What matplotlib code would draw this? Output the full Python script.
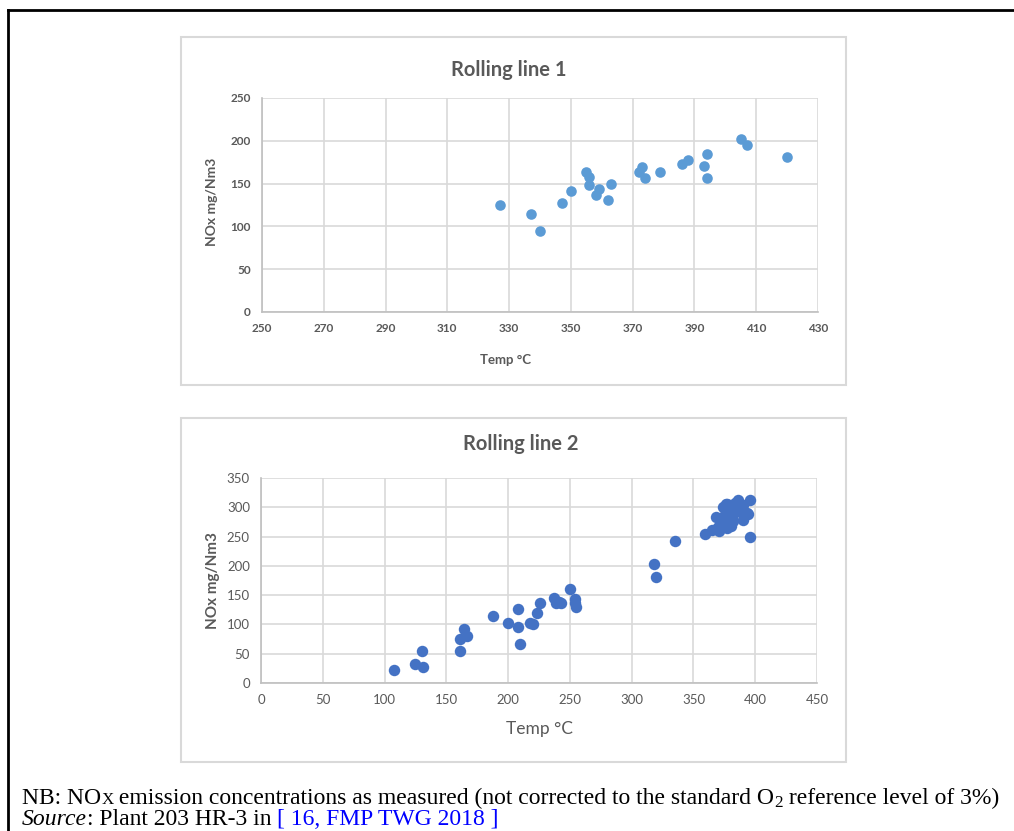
import matplotlib
matplotlib.use("Agg")
import matplotlib.pyplot as plt
from matplotlib.patches import Rectangle
from matplotlib.lines import Line2D

# Rolling line 1 data (Temp degC, NOx mg/Nm3)
temp1 = [327, 337, 340, 347, 350, 355, 356, 356, 358, 359, 362, 363, 372, 373, 374,
         379, 386, 388, 393, 394, 394, 405, 407, 420]
nox1 = [125, 115, 95, 127, 141, 163, 158, 148, 137, 144, 131, 150, 163, 169, 157,
        163, 173, 178, 171, 184, 156, 202, 195, 181]

# Rolling line 2 data
temp2 = [108, 125, 130, 131, 161, 161, 164, 167, 188, 200, 208, 208, 210, 218, 220,
         223, 226, 237, 239, 241, 243, 250, 254, 254, 255, 318, 320, 335, 359, 396,
         396, 365, 368, 370, 372, 373, 374, 376, 377, 377, 378, 379, 380, 382, 383,
         384, 386, 387, 388, 390, 390, 391, 393, 394, 371, 375, 381, 385]
nox2 = [22, 33, 55, 28, 54, 75, 93, 80, 114, 102, 126, 95, 66, 102, 101,
        120, 136, 145, 136, 139, 136, 160, 144, 136, 129, 204, 181, 242, 254, 249,
        312, 261, 283, 267, 271, 278, 301, 306, 265, 305, 294, 278, 268, 277, 290,
        307, 312, 295, 300, 278, 304, 287, 290, 288, 260, 285, 283, 298]

xticks1 = [250, 270, 290, 310, 330, 350, 370, 390, 410, 430]
yticks1 = [0, 50, 100, 150, 200, 250]
xticks2 = [0, 50, 100, 150, 200, 250, 300, 350, 400, 450]
yticks2 = [0, 50, 100, 150, 200, 250, 300, 350]

W, H = 1014, 831
plt.rcParams['font.family'] = ['Lato', 'DejaVu Sans']
fig = plt.figure(figsize=(W / 100, H / 100), dpi=100)

def fx(px):
    return px / W

def fy(py):
    return 1 - py / H

# outer frame (black) on top and left
fig.add_artist(Line2D([fx(8), fx(8)], [fy(10), 0], color='black', lw=2))
fig.add_artist(Line2D([fx(8), 1], [fy(10), fy(10)], color='black', lw=2))

# chart panels
for top, bot in [(37, 385), (418, 762)]:
    fig.add_artist(Rectangle((fx(181), fy(bot)), fx(846) - fx(181), fy(top) - fy(bot),
                             transform=fig.transFigure, fill=False, ec='#d9d9d9', lw=1.5))

gray = '#595959'

def style(ax, xt, yt, fs, bold):
    ax.set_xticks(xt)
    ax.set_yticks(yt)
    ax.set_xlim(xt[0], xt[-1])
    ax.set_ylim(yt[0], yt[-1])
    ax.grid(True, color='#d9d9d9', lw=1.2)
    ax.set_axisbelow(True)
    for s in ['top', 'right']:
        ax.spines[s].set_visible(False)
    for s in ['left', 'bottom']:
        ax.spines[s].set_color('#bfbfbf')
        ax.spines[s].set_linewidth(1.2)
    ax.tick_params(length=0, labelsize=fs, labelcolor=gray, pad=8)
    if bold:
        for lab in ax.get_xticklabels() + ax.get_yticklabels():
            lab.set_fontweight('bold')

# top chart
ax1 = fig.add_axes([fx(262), fy(312), fx(818) - fx(262), fy(98) - fy(312)])
ax1.scatter(temp1, nox1, s=58, color='#5b9bd5', zorder=3, linewidths=0)
style(ax1, xticks1, yticks1, 8.5, True)
fig.text(fx(509), fy(70), 'Rolling line 1', ha='center', va='center', fontsize=14.5,
         fontweight='bold', color=gray)
fig.text(fx(212), fy(202), 'NOx mg/Nm3', rotation=90, ha='center', va='center',
         fontsize=10, fontweight='bold', color=gray)
fig.text(fx(505), fy(360), 'Temp °C', ha='center', va='center', fontsize=9.5,
         fontweight='bold', color=gray)

# bottom chart
ax2 = fig.add_axes([fx(261), fy(683), fx(817) - fx(261), fy(478) - fy(683)])
ax2.scatter(temp2, nox2, s=68, color='#4472c4', zorder=3, linewidths=0)
style(ax2, xticks2, yticks2, 9.5, False)
fig.text(fx(521), fy(444), 'Rolling line 2', ha='center', va='center', fontsize=14.5,
         fontweight='bold', color=gray)
fig.text(fx(213), fy(581), 'NOx mg/Nm3', rotation=90, ha='center', va='center',
         fontsize=11, fontweight='bold', color=gray)
fig.text(fx(539), fy(729), 'Temp °C', ha='center', va='center', fontsize=12.5,
         color=gray)

# caption under the charts
serif = ['Liberation Serif', 'DejaVu Serif']
fs = 17
t1 = fig.text(fx(22), fy(804), 'NB: NO', fontsize=fs, family=serif, va='baseline')
t2 = fig.text(0, 0, 'X', fontsize=fs * 0.72, family=serif, va='baseline')
t3 = fig.text(0, 0, ' emission concentrations as measured (not corrected to the standard O',
              fontsize=fs, family=serif, va='baseline')
t4 = fig.text(0, 0, '2', fontsize=fs * 0.72, family=serif, va='baseline')
t5 = fig.text(0, 0, ' reference level of 3%)', fontsize=fs, family=serif, va='baseline')
s1 = fig.text(fx(22), fy(825), 'Source', fontsize=fs, family=serif, style='italic',
              va='baseline')
s2 = fig.text(0, 0, ': Plant 203 HR-3 in ', fontsize=fs, family=serif, va='baseline')
s3 = fig.text(0, 0, '[ 16, FMP TWG 2018 ]', fontsize=fs, family=serif, va='baseline',
              color='#0000ff')

fig.canvas.draw()
r = fig.canvas.get_renderer()

def place_after(prev, cur, base, dy_px=0):
    x0 = prev.get_window_extent(r).x1 / fig.bbox.width
    cur.set_position((x0, base.get_position()[1] + dy_px / fig.bbox.height))

place_after(t1, t2, t1)
place_after(t2, t3, t1)
place_after(t3, t4, t1, dy_px=-3)
place_after(t4, t5, t1)
place_after(s1, s2, s1)
place_after(s2, s3, s1)

fig.savefig('out.png', dpi=100)
